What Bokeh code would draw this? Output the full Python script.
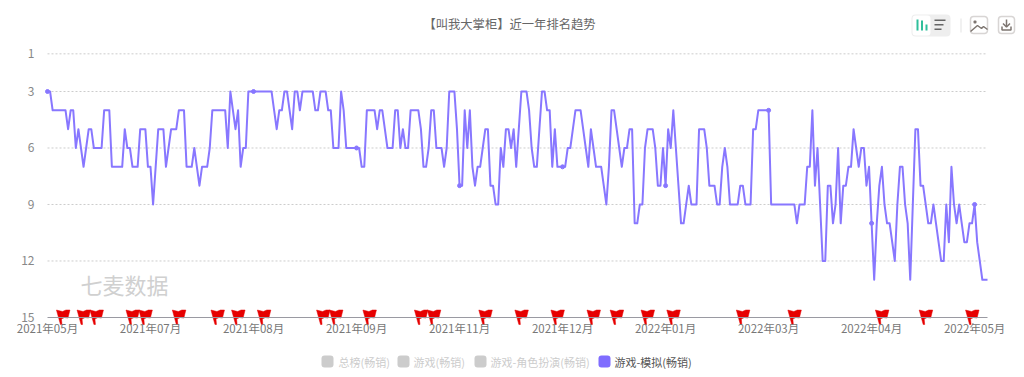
from bokeh.plotting import figure
from bokeh.models import Range1d, FixedTicker, Label, BoxAnnotation
from bokeh.embed import file_html
from bokeh.resources import INLINE

CJK = "Noto Sans CJK SC"

title = "【叫我大掌柜】近一年排名趋势"
watermark = "七麦数据"
y_ticks = [1, 3, 6, 9, 12, 15]
x_tick_idx = [0, 40, 80, 120, 160, 200, 240, 280, 320, 360]
x_tick_labels = ["2021年05月", "2021年07月", "2021年08月", "2021年09月", "2021年11月",
                 "2021年12月", "2022年01月", "2022年03月", "2022年04月", "2022年05月"]
legend_names = ["总榜(畅销)", "游戏(畅销)", "游戏-角色扮演(畅销)", "游戏-模拟(畅销)"]

rank_a = [3,3,4,4,4,4,4,4,5,4,4,6,5,6,7,6,5,5,6,6,6,6,4,4,4,7,7,7,7,7,5,6,6,7,7,7,5,5,5,7,
          7,9,7,5,5,5,7,6,5,5,5,4,4,4,7,7,7,6,7,8,7,7,7,6,4,4,4,4,4,4,6,3,4,5,4,7,6,6,3,3,
          3,3,3,3,3,3,3,3,4,5,4,4,3,3,4,5,3,3,4,3,3,3,3,3,4,4,3,3,3,4,4,6,6,6,3,4]
rank_b = [6,6,6,6,6,6,7,7,4,4,4,4,5,4,4,5,6,6,6,4,4,6,5,6,6,4,4,4,4,5,7,7,6,4,4,6,6,6,7,6,
          3,3,3,5,8,8,4,6,4,7,8,7,7,6,5,5,8,8,9,9,6,7,5,5,6,5,7,5,3,3,3,4,6,7,7,5,3,3,4,4,
          7,5,7,7,7,7,6,6,5,4,4,4,5,6,7,5,6,7,7,7,8,9,7,4,4,5,6,7,6,6,5,5]
rank_c = [10,10,9,9,6,5,5,5,6,8,8,6,8,5,6,4,6,8,10,10,9,8,9,9,9,5,5,5,6,8,8,8,9,9,7,6,7,9,9,
          9,9,8,8,9,9,9,5,5,4,4,4,4,4,9,9,9,9,9,9,9,9,9,9,10,9,9,9,7,7,4,8,6,9,12,12,8,8,10,
          9,6,10,8,8,7,7,5,6,7]
rank_d = [6,6,8,7,10,13,10,8,7,9,10,10,11,12,9,7,7,9,10,13,9,5,5,8,8,9,10,10,9,10,11,12,12,
          9,11,7,9,10,9,10,11,11,10,10,9,11,12,13,13,13]
ranks = rank_a + rank_b + rank_c + rank_d
days = list(range(len(ranks)))
flag_days = [6,14,19,33,38,51,66,74,84,107,112,125,145,150,170,184,198,212,221,233,243,270,290,324,341,359]
dot_days = [0, 80, 120, 160, 200, 240, 280, 320, 360]

X_PX = 940 / 365   # pixels per day
Y_PX = 18.83       # pixels per rank
LEFT, RANK3_Y = 47, 91
W, H = 1016, 369
flag_shape = [(-6.5,-6.5),(-0.5,-5),(3,-6.5),(7,-6.5),(5,1.5),(1.5,1),(-1.5,2.5),(-1,8),(-2.5,8)]

p = figure(width=W, height=H, output_backend="svg", toolbar_location=None,
           x_range=Range1d(-LEFT / X_PX, (W - LEFT) / X_PX),
           y_range=Range1d(3 + (H - RANK3_Y) / Y_PX, 3 - RANK3_Y / Y_PX),
           min_border=0, min_border_left=0, min_border_right=0, min_border_top=0, min_border_bottom=0,
           background_fill_color="white", border_fill_color="white", outline_line_color=None)

p.xgrid.visible = False
p.ygrid.visible = False
p.segment(x0=[0] * 5, x1=[365] * 5, y0=y_ticks[:-1], y1=y_ticks[:-1],
          line_color="#cccccc", line_dash="2 2", line_width=1)

yax = p.yaxis[0]
yax.fixed_location = 0
yax.ticker = FixedTicker(ticks=y_ticks)
yax.axis_line_color = None
yax.major_tick_line_color = None
yax.minor_tick_line_color = None
yax.major_label_text_font = CJK
yax.major_label_text_font_size = "12px"
yax.major_label_text_color = "#888888"
yax.major_label_standoff = 7

xax = p.xaxis[0]
xax.fixed_location = 15
xax.bounds = (0, 365)
xax.ticker = FixedTicker(ticks=x_tick_idx)
xax.major_label_overrides = {k: v for k, v in zip(x_tick_idx, x_tick_labels)}
xax.axis_line_color = "#9a9aa2"
xax.axis_line_width = 1
xax.major_tick_line_color = None
xax.minor_tick_line_color = None
xax.major_label_text_font = CJK
xax.major_label_text_font_size = "11.5px"
xax.major_label_text_color = "#777777"
xax.major_label_standoff = -3

p.line(days, ranks, line_color="#8877ff", line_width=2, line_join="round")
p.scatter([days[i] for i in dot_days], [ranks[i] for i in dot_days], size=4,
          marker="circle", fill_color="#8877ff", line_color="#8877ff")

xs = [[d + dx / X_PX for dx, _ in flag_shape] for d in flag_days]
ys = [[14.95 + dy / Y_PX for _, dy in flag_shape] for _ in flag_days]
p.patches(xs, ys, fill_color="#e60000", line_color="#e60000", line_width=0.5)


def text(txt, x, y, size, color, align="left"):
    p.add_layout(Label(x=x, y=y, x_units="canvas", y_units="canvas", text=txt,
                       text_font=CJK, text_font_size=size, text_color=color,
                       text_align=align, text_baseline="middle"))


def box(l, t, r, b, fill, line=None, radius=0):
    p.add_layout(BoxAnnotation(left=l, right=r, top=t, bottom=b,
                               left_units="canvas", right_units="canvas",
                               top_units="canvas", bottom_units="canvas",
                               fill_color=fill, fill_alpha=1 if fill else 0,
                               line_color=line, line_width=1.5 if line else 0,
                               border_radius=radius, level="overlay"))


def stroke(points, color="#7d7570"):
    p.line([(x - LEFT) / X_PX for x, _ in points], [3 + (y - RANK3_Y) / Y_PX for _, y in points],
           line_color=color, line_width=1.5)


text(title, 509, 23, "12.3px", "#666666", "center")
text(watermark, 80, 283, "22px", "#d0d0d0")

# legend
legend_boxes = [(321, "#cccccc", 338, "#cccccc"), (397, "#cccccc", 413, "#cccccc"),
                (474, "#cccccc", 490, "#cccccc"), (598, "#7f6cff", 614, "#555555")]
for name, (bx, bc, tx, tc) in zip(legend_names, legend_boxes):
    box(bx, 355, bx + 12, 367, bc, radius=3)
    text(name, tx, 361.5, "11px", tc)

# top-right buttons
box(911, 14, 950, 36, "#eeeeee", radius=4)
box(912, 15, 930, 35, "#ffffff", radius=3)
for l, t in [(916, 19), (920.5, 20), (925, 24)]:
    box(l, t, l + 2, 30, "#2fbf9b")
for t, r in [(19, 945), (23.5, 943), (28, 941)]:
    box(934, t, r, t + 1.6, "#666666")
box(960, 18, 961, 32, "#e3e3e3")
box(970, 16, 987, 33, None, line="#7d7570", radius=3)
box(998, 16, 1014, 33, None, line="#7d7570", radius=3)
box(973, 20, 976, 23, "#7d7570", radius=1)
stroke([(970, 31), (977, 25), (981, 28), (983, 26), (987, 29)])
stroke([(1006, 19), (1006, 26)])
stroke([(1002.5, 23), (1006, 26.5), (1009.5, 23)])
stroke([(1001.5, 26), (1001.5, 29.5), (1010.5, 29.5), (1010.5, 26)])

open("out.html", "w").write(file_html(p, INLINE))
